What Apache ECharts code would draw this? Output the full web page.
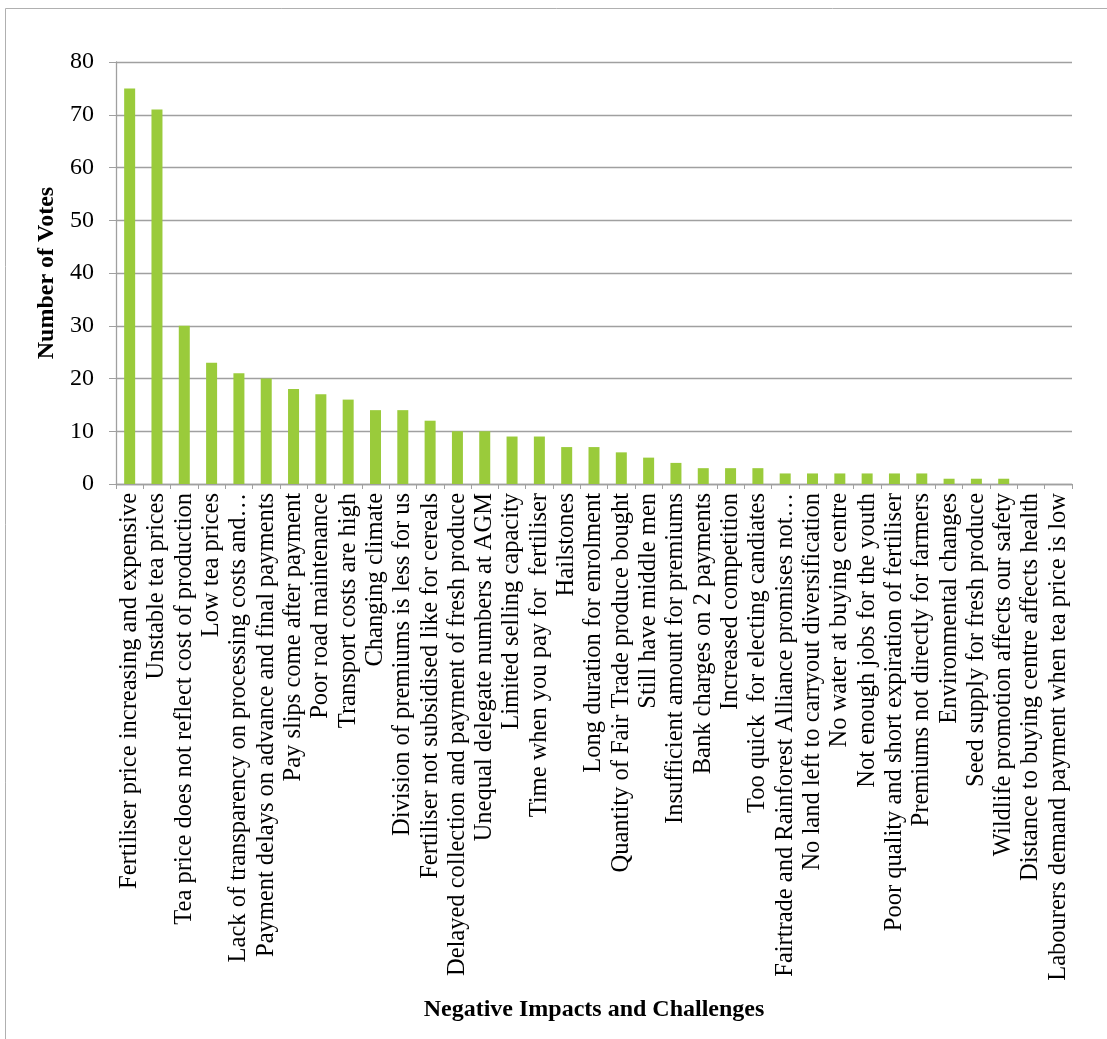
<!DOCTYPE html>
<html>
<head>
<meta charset="utf-8">
<script src="https://cdn.jsdelivr.net/npm/echarts@6/dist/echarts.min.js"></script>
<style>
  html, body { margin: 0; padding: 0; background: #ffffff; }
  #chart { width: 1107px; height: 1039px; }
</style>
</head>
<body>
<div id="chart"></div>
<script>
// Challenges named by farmers, ordered by number of votes
const categories = [
  'Fertiliser price increasing and expensive',
  'Unstable tea prices',
  'Tea price does not reflect cost of production',
  'Low tea prices',
  'Lack of transparency on processing costs and…',
  'Payment delays on advance and final payments',
  'Pay slips come after payment',
  'Poor road maintenance',
  'Transport costs are high',
  'Changing climate',
  'Division of premiums is less for us',
  'Fertiliser not subsidised like for cereals',
  'Delayed collection and payment of fresh produce',
  'Unequal delegate numbers at AGM',
  'Limited selling capacity',
  'Time when you pay for  fertiliser',
  'Hailstones',
  'Long duration for enrolment',
  'Quantity of Fair Trade produce bought',
  'Still have middle men',
  'Insufficient amount for premiums',
  'Bank charges on 2 payments',
  'Increased competition',
  'Too quick  for electing candiates',
  'Fairtrade and Rainforest Alliance promises not…',
  'No land left to carryout diversification',
  'No water at buying centre',
  'Not enough jobs for the youth',
  'Poor quality and short expiration of fertiliser',
  'Premiums not directly for farmers',
  'Environmental changes',
  'Seed supply for fresh produce',
  'Wildlife promotion affects our safety',
  'Distance to buying centre affects health',
  'Labourers demand payment when tea price is low'
];

const votes = [
  75, 71, 30, 23, 21, 20, 18, 17, 16, 14,
  14, 12, 10, 10, 9, 9, 7, 7, 6, 5,
  4, 3, 3, 3, 2, 2, 2, 2, 2, 2,
  1, 1, 1, 0, 0
];

const yTicks = { min: 0, max: 80, step: 10 };

const serif = '"Liberation Serif", "Times New Roman", serif';
const gray = '#a0a0a0';

const chart = echarts.init(document.getElementById('chart'), null, { renderer: 'canvas' });

chart.setOption({
  backgroundColor: '#ffffff',
  animation: false,
  graphic: [{
    type: 'rect',
    shape: { x: 5.5, y: 8.5, width: 1120, height: 1060 },
    style: { fill: 'none', stroke: '#b0b0b0', lineWidth: 1 },
    silent: true
  }],
  grid: { left: 116, top: 62, right: 35, bottom: 555, containLabel: false },
  xAxis: {
    type: 'category',
    data: categories,
    boundaryGap: true,
    axisLine: { show: true, lineStyle: { color: gray, width: 1.3 } },
    axisTick: { show: true, alignWithLabel: false, length: 5, lineStyle: { color: gray } },
    axisLabel: {
      interval: 0,
      rotate: 90,
      margin: 9,
      fontFamily: serif,
      fontSize: 24.5,
      color: '#000000'
    },
    name: 'Negative Impacts and Challenges',
    nameLocation: 'middle',
    nameGap: 514,
    nameTextStyle: { fontFamily: serif, fontSize: 24, fontWeight: 'bold', color: '#000000' }
  },
  yAxis: {
    type: 'value',
    min: yTicks.min,
    max: yTicks.max,
    interval: yTicks.step,
    axisLine: { show: true, lineStyle: { color: gray, width: 1.3 } },
    axisTick: { show: true, length: 7, lineStyle: { color: gray } },
    splitLine: { show: true, lineStyle: { color: gray, width: 1.3 } },
    axisLabel: { margin: 22, fontFamily: serif, fontSize: 24, color: '#000000' },
    name: 'Number of Votes',
    nameLocation: 'middle',
    nameGap: 54,
    nameTextStyle: { fontFamily: serif, fontSize: 24, fontWeight: 'bold', color: '#000000' }
  },
  series: [{
    type: 'bar',
    data: votes,
    barWidth: 11,
    itemStyle: { color: '#9acb3b' }
  }]
});
</script>
</body>
</html>
